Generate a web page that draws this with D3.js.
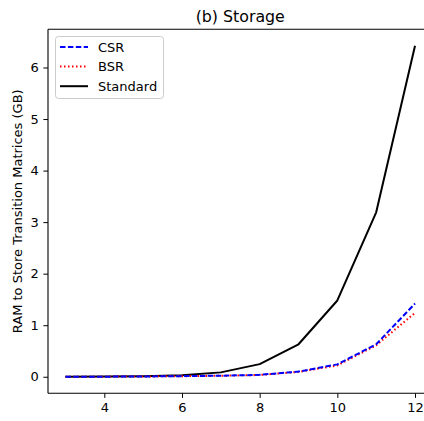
<!DOCTYPE html>
<html><head><meta charset="utf-8">
<script src="https://cdn.jsdelivr.net/npm/d3@7"></script>
<style>body{margin:0;background:#fff}svg{display:block;font-family:"DejaVu Sans",sans-serif}</style>
</head><body>
<svg id="c" width="424" height="421"></svg>
<script>
const xs = [3,4,5,6,7,8,9,10,11,12];
const csr = [0.0005,0.002,0.005,0.012,0.02,0.037,0.1,0.24,0.63,1.42];
const bsr = [0.0005,0.002,0.005,0.011,0.019,0.034,0.095,0.22,0.61,1.24];
const standard = [0.001,0.003,0.01,0.03,0.085,0.245,0.63,1.48,3.19,6.42];
const xTicks = [4,6,8,10,12];
const yTicks = [0,1,2,3,4,5,6];
const series = [
  {name:"CSR", values:csr, color:"#0000ff", dash:"5.5,2.4"},
  {name:"BSR", values:bsr, color:"#ff0000", dash:"1.5,2.5"},
  {name:"Standard", values:standard, color:"#000000", dash:null}
];

const svg = d3.select("#c");
const L=48, T=29.3, R=432.5, B=393.3;
const x = d3.scaleLinear().domain([2.55,12.45]).range([L,R]);
const y = d3.scaleLinear().domain([-0.321,6.741]).range([B,T]);

const line = d3.line().x((d,i)=>x(xs[i])).y(d=>y(d));
series.slice().reverse().forEach(s=>{
  svg.append("path").datum(s.values).attr("d",line).attr("fill","none")
    .attr("stroke",s.color).attr("stroke-width",2)
    .attr("stroke-dasharray",s.dash).attr("stroke-linejoin","round");
});

const xa = svg.append("g").attr("transform",`translate(0,${B})`)
  .call(d3.axisBottom(x).tickValues(xTicks).tickSize(4.6).tickPadding(4.6).tickFormat(d3.format("d")));
const ya = svg.append("g").attr("transform",`translate(${L},0)`)
  .call(d3.axisLeft(y).tickValues(yTicks).tickSize(4.6).tickPadding(4.6).tickFormat(d3.format("d")));
[xa,ya].forEach(a=>{
  a.select(".domain").remove();
  a.selectAll("text").attr("font-size",13).attr("fill","#000").attr("font-family","DejaVu Sans");
  a.selectAll("line").attr("stroke","#000").attr("stroke-width",1);
});
// spines
svg.append("line").attr("x1",L).attr("x2",L).attr("y1",T).attr("y2",B).attr("stroke","#000").attr("stroke-width",1.1);
svg.append("line").attr("x1",L).attr("x2",R).attr("y1",B).attr("y2",B).attr("stroke","#000").attr("stroke-width",1.1);
svg.append("line").attr("x1",L).attr("x2",R).attr("y1",T).attr("y2",T).attr("stroke","#000").attr("stroke-width",1.1);

svg.append("text").attr("x",(L+R)/2).attr("y",T-7).attr("text-anchor","middle")
  .attr("font-size",15.8).text("(b) Storage");
svg.append("text").attr("transform",`translate(22,${(T+B)/2}) rotate(-90)`)
  .attr("text-anchor","middle").attr("font-size",13).text("RAM to Store Transition Matrices (GB)");

// legend
const lg = svg.append("g");
lg.append("rect").attr("x",55.5).attr("y",36.5).attr("width",108).attr("height",62)
  .attr("rx",3).attr("fill","#fff").attr("fill-opacity",0.8).attr("stroke","#ccc").attr("stroke-width",1);
series.forEach((s,i)=>{
  const yy = 47 + i*19.6;
  lg.append("line").attr("x1",60).attr("x2",88).attr("y1",yy).attr("y2",yy)
    .attr("stroke",s.color).attr("stroke-width",2).attr("stroke-dasharray",s.dash);
  lg.append("text").attr("x",98).attr("y",yy).attr("dy","0.35em").attr("font-size",13).text(s.name);
});
</script>
</body></html>
